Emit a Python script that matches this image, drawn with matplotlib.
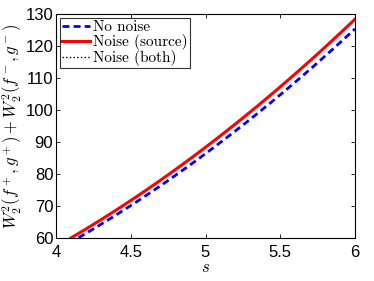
import matplotlib
matplotlib.use('Agg')
import matplotlib.pyplot as plt
import numpy as np

plt.rcParams['mathtext.fontset'] = 'cm'
plt.rcParams['font.family'] = 'Liberation Sans'

# values
s_noise = [4.1, 4.5, 5.0, 5.5, 6.0]
w_noise_source = [60.0, 72.0, 88.5, 107.0, 128.5]
w_noise_both = [60.0, 72.0, 88.5, 107.0, 128.5]
s_clean = [4.15, 4.5, 5.0, 5.5, 6.0]
w_clean = [60.0, 70.5, 86.5, 104.5, 125.5]

def smooth(x, y):
    c = np.polyfit(x, y, 2)
    xx = np.linspace(x[0], x[-1], 100)
    return xx, np.polyval(c, xx)

fig = plt.figure(figsize=(3.74, 2.81), dpi=100)
ax = fig.add_axes([0.150, 0.152, 0.799, 0.798])

xx, yy = smooth(s_clean, w_clean)
ax.plot(xx, yy, color='blue', ls='--', lw=2.0, dashes=(2.5, 1.5), label='No noise')
xx, yy = smooth(s_noise, w_noise_both)
ax.plot(xx, yy, color='black', ls=':', lw=1.0, label='Noise (both)')
xx, yy = smooth(s_noise, w_noise_source)
ax.plot(xx, yy, color='red', lw=2.2, label='Noise (source)')

ax.set_xlim(4, 6)
ax.set_ylim(60, 130)
ax.set_xticks([4, 4.5, 5, 5.5, 6])
ax.set_xticklabels(['4', '4.5', '5', '5.5', '6'])
ax.set_yticks(range(60, 131, 10))
ax.tick_params(direction='in', top=True, right=True, labelsize=12, length=3, width=0.6)
ax.tick_params(axis='x', pad=5)
ax.tick_params(axis='y', pad=2)
for sp in ax.spines.values():
    sp.set_linewidth(0.8)

ax.set_xlabel(r'$s$', fontsize=12, labelpad=0)
ax.set_ylabel(r'$W_2^2(f^+,g^+)+W_2^2(f^-,g^-)$', fontsize=12, labelpad=1)

h, l = ax.get_legend_handles_labels()
order = [0, 2, 1]
leg = ax.legend([h[i] for i in order], [l[i] for i in order], loc='upper left',
                prop={'family': 'cmr10', 'size': 11}, frameon=True, fancybox=False,
                handlelength=1.8, handletextpad=0.2, borderpad=0.15, labelspacing=0.0,
                borderaxespad=0.25)
leg.get_frame().set_edgecolor('black')
leg.get_frame().set_linewidth(0.8)

fig.savefig('out.png', dpi=100)
